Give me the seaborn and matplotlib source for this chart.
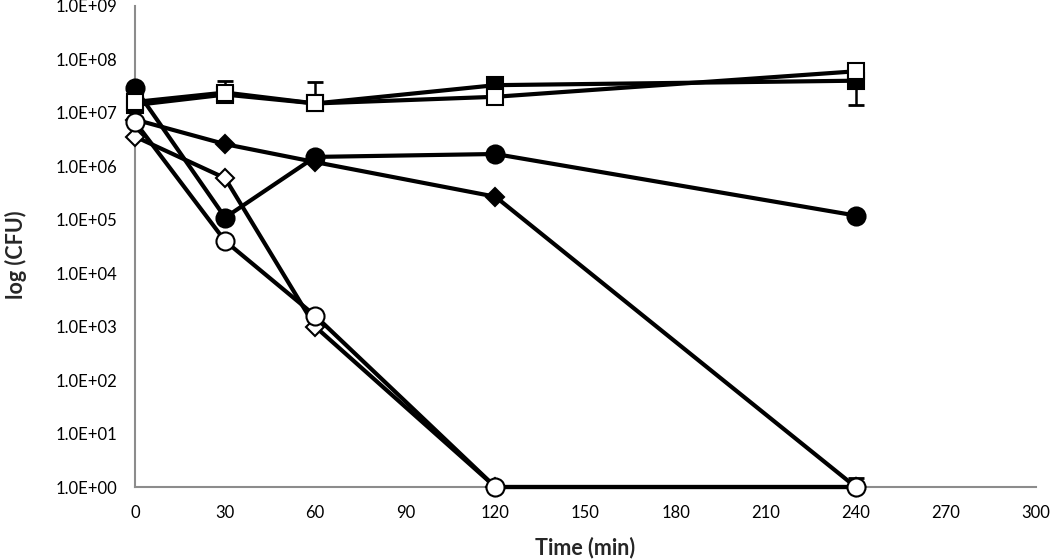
"""Time-kill curves: log(CFU) over time for six treatments."""

import matplotlib
matplotlib.use("Agg")
import matplotlib.pyplot as plt
import matplotlib.ticker as mticker
import pandas as pd
import seaborn as sns

time_min = [0, 30, 60, 120, 240]

cfu_filled_circle = [2.9e7, 1.1e5, 1.5e6, 1.7e6, 1.2e5]
cfu_filled_diamond = [7.5e6, 2.6e6, 1.2e6, 2.7e5, 1.0]
cfu_open_diamond = [3.6e6, 6.0e5, 1.0e3, 1.0, 1.0]
cfu_open_circle = [6.8e6, 4.0e4, 1.6e3, 1.0, 1.0]
cfu_filled_square = [1.4e7, 2.2e7, 1.5e7, 3.3e7, 4.0e7]
cfu_open_square = [1.6e7, 2.4e7, 1.5e7, 2.0e7, 6.0e7]

# one-sided error bars as Excel shows them (upper / lower extent)
err_up_open_square = [0, 1.5e7, 2.3e7, 0, 0]
err_down_filled_square = [0, 0, 0, 0, 2.6e7]
err_up_open_circle = [0, 0, 0, 0, 0.5]

y_ticks = [10.0 ** k for k in range(10)]
x_ticks = list(range(0, 301, 30))

series = [
    ("filled circle", cfu_filled_circle, "o", "black", 13),
    ("filled diamond", cfu_filled_diamond, "D", "black", 9),
    ("open diamond", cfu_open_diamond, "D", "white", 9),
    ("open circle", cfu_open_circle, "o", "white", 13),
    ("filled square", cfu_filled_square, "s", "black", 12),
    ("open square", cfu_open_square, "s", "white", 12),
]

sns.set_style("white")
plt.rcParams["font.family"] = ["Lato", "DejaVu Sans"]

fig = plt.figure(figsize=(10.5, 5.59), dpi=100)
ax = fig.add_axes([0.1286, 0.1288, 0.858, 0.8605])

# error bars go under the markers
bar_kw = dict(fmt="none", ecolor="black", elinewidth=1.8, capsize=6,
              capthick=2, zorder=2)
ax.errorbar(time_min, cfu_open_square, yerr=[[0] * 5, err_up_open_square],
            **bar_kw)
ax.errorbar(time_min, cfu_filled_square, yerr=[err_down_filled_square, [0] * 5],
            **bar_kw)
ax.errorbar(time_min, cfu_open_circle, yerr=[[0] * 5, err_up_open_circle],
            clip_on=False, **bar_kw)

for i, (name, vals, mk, face, ms) in enumerate(series):
    df = pd.DataFrame({"time": time_min, "cfu": vals})
    sns.lineplot(data=df, x="time", y="cfu", ax=ax, color="black",
                 linewidth=3, marker=mk, markersize=ms,
                 markerfacecolor=face, markeredgecolor="black",
                 markeredgewidth=1.5, clip_on=False, zorder=3 + i)

ax.set_yscale("log")
ax.set_ylim(1, 1e9)
ax.set_xlim(0, 300)
ax.set_yticks(y_ticks)
ax.yaxis.set_minor_locator(mticker.NullLocator())
ax.yaxis.set_major_formatter(mticker.FuncFormatter(lambda v, _: f"{v:.1E}"))
ax.set_xticks(x_ticks)

for side in ("top", "right"):
    ax.spines[side].set_visible(False)
for side in ("left", "bottom"):
    ax.spines[side].set_color("#8c8c8c")
    ax.spines[side].set_linewidth(1.5)

ax.tick_params(axis="both", which="major", direction="out", length=5,
               width=1.5, color="#8c8c8c", labelsize=12, labelcolor="black",
               pad=8)

ax.set_xlabel("Time (min)", fontsize=15.5, fontweight="bold")
ax.set_ylabel("log (CFU)", fontsize=15.5, fontweight="bold")
ax.xaxis.set_label_coords(0.4995, -0.125)
ax.yaxis.set_label_coords(-0.132, 0.482)
ax.xaxis.label.set_verticalalignment("center")
ax.yaxis.label.set_verticalalignment("center")

fig.savefig("out.png", dpi=100)
plt.close(fig)
